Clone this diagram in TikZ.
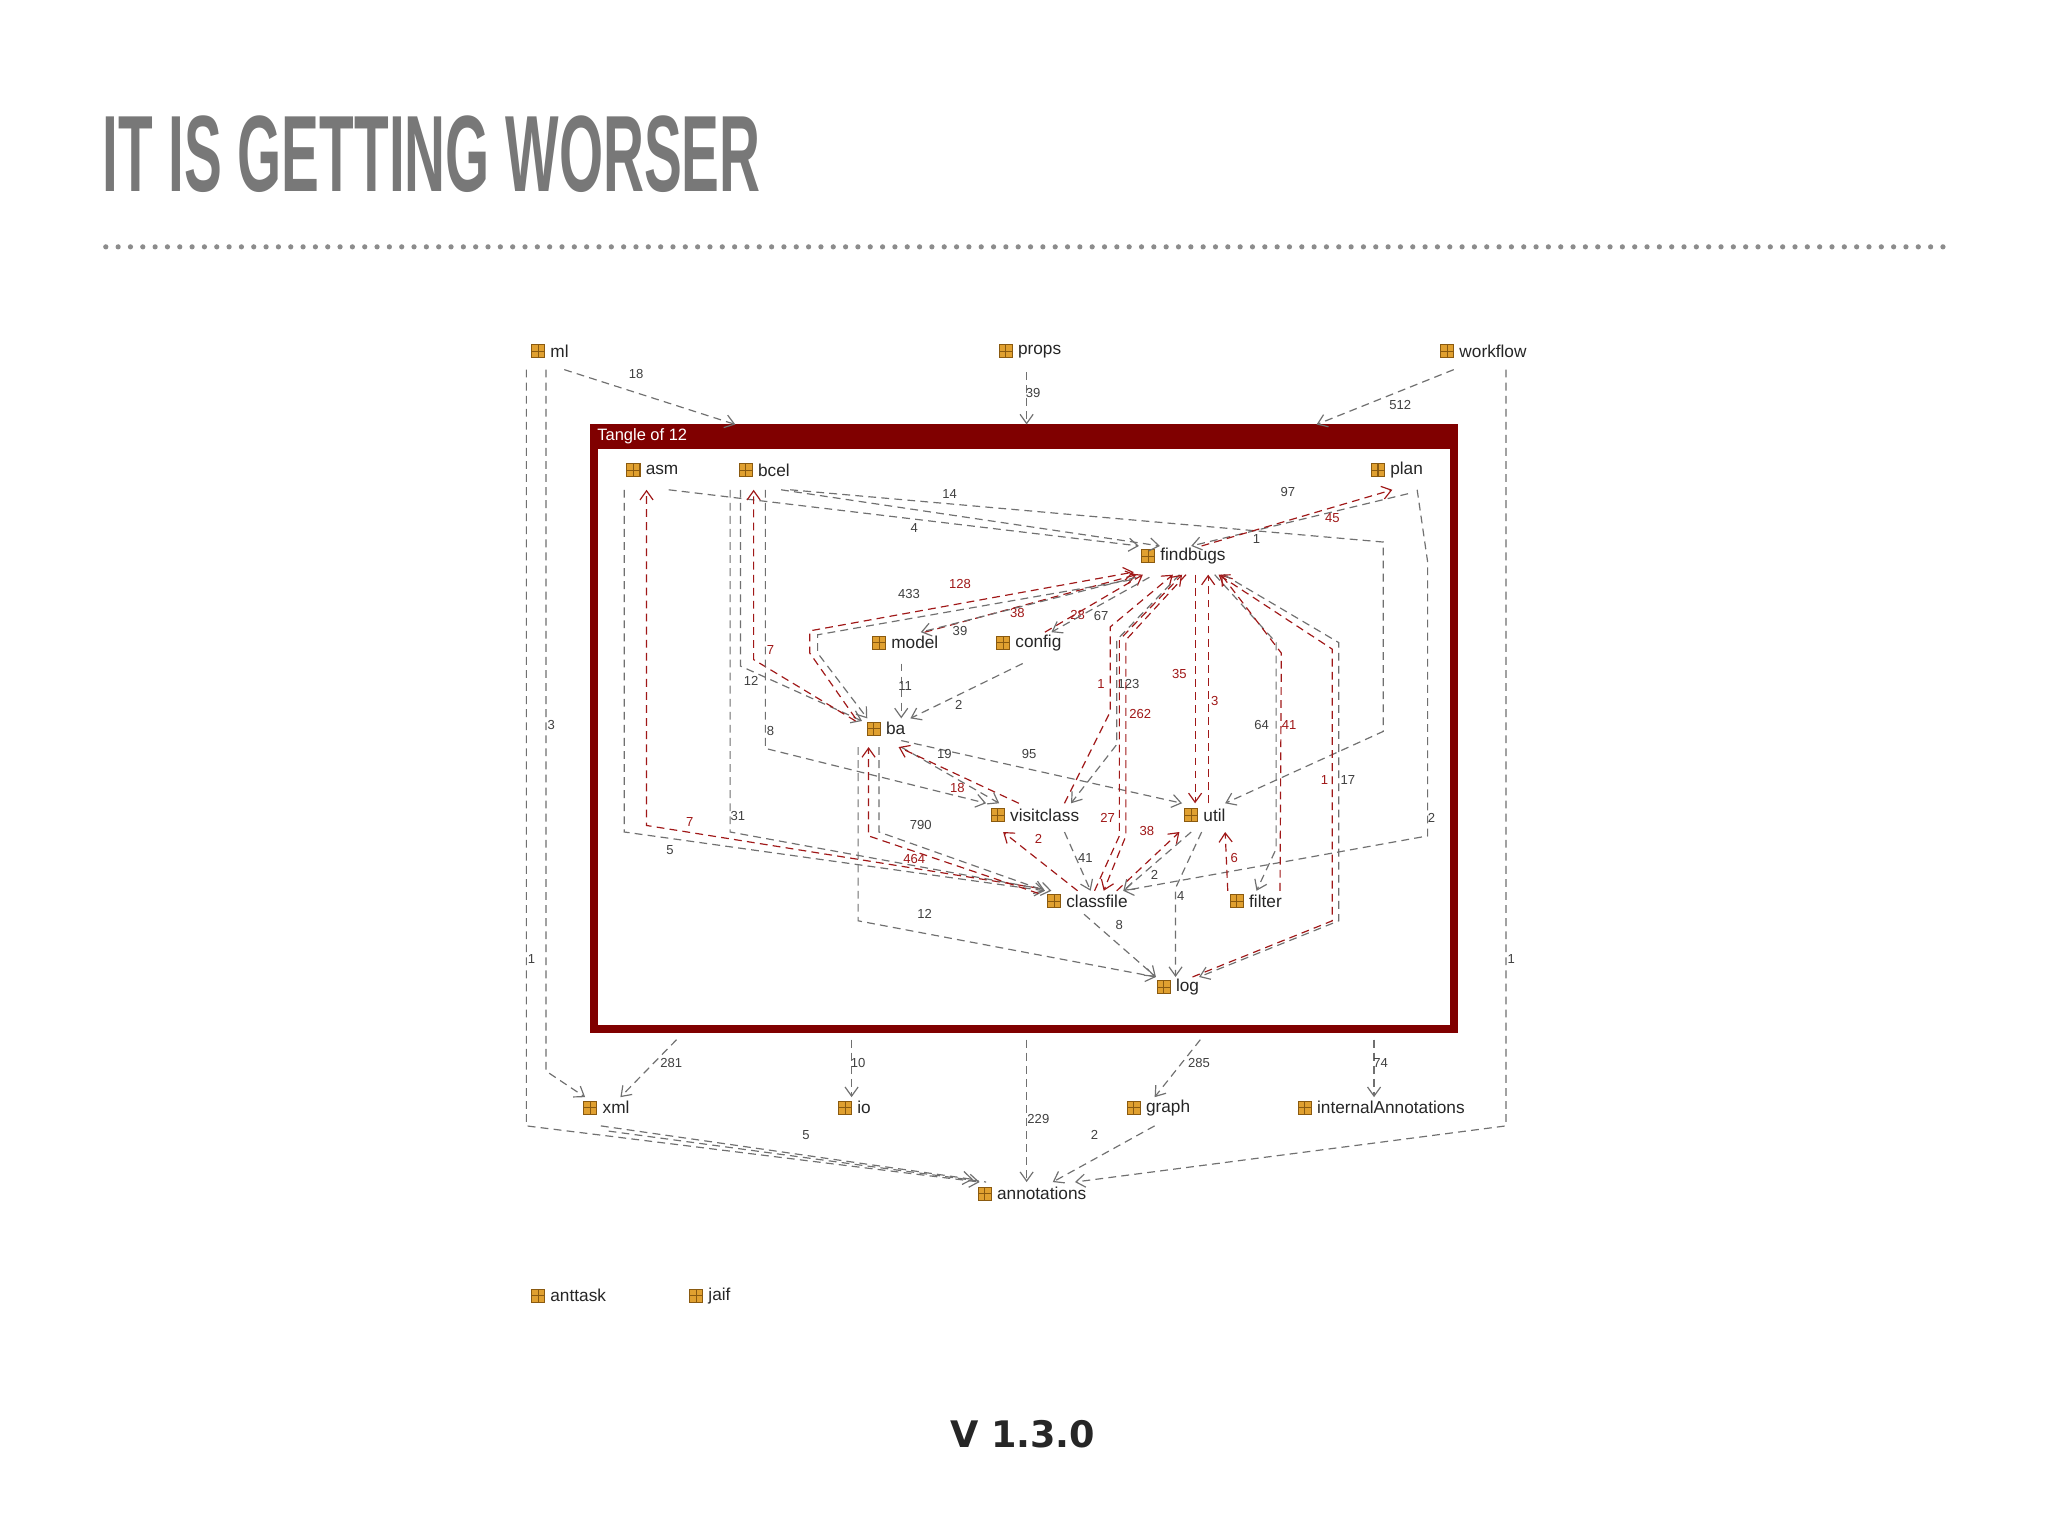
\documentclass[tikz,border=0pt]{standalone}
\usepackage{fontspec}
\setmainfont{Liberation Sans}
\newfontfamily\vfont{DejaVu Sans}
\usetikzlibrary{arrows.meta}
\definecolor{tang}{HTML}{800000}
\definecolor{redg}{HTML}{A01818}
\definecolor{grayg}{HTML}{707070}
\definecolor{icof}{HTML}{E0A030}
\definecolor{icod}{HTML}{8A5A10}
\tikzset{
 ge/.style={grayg,densely dashed,line width=0.45pt,-{Straight Barb[length=3.5pt,width=5pt]}},
 re/.style={redg,densely dashed,line width=0.45pt,-{Straight Barb[length=3.5pt,width=5pt]}},
 gl/.style={grayg,densely dashed,line width=0.45pt},
 nm/.style={anchor=west,inner sep=0pt,font=\fontsize{6.6}{7}\selectfont,text=black!85},
 lb/.style={inner sep=0pt,font=\fontsize{5}{6}\selectfont,text=black!75},
 rl/.style={inner sep=0pt,font=\fontsize{5}{6}\selectfont,text=redg},
}
\newcommand\pk[4]{%
 \fill[icof,draw=icod,line width=0.4pt] ({#2-5},{#3-5}) rectangle ({#2+5},{#3+5});
 \draw[icod,line width=0.4pt] (#2,{#3-5}) -- (#2,{#3+5}) ({#2-5},#3) -- ({#2+5},#3);
 \node[nm] (#1) at ({#2+9},#3) {#4};}
\begin{document}
\begin{tikzpicture}[x=0.5pt,y=-0.5pt]
\useasboundingbox[fill=white] (0,0) rectangle (1568,1176);
% title
\node[anchor=south west,inner sep=0pt,text=black!53] (title) at (78,148) {\resizebox{252pt}{29pt}{\bfseries IT IS GETTING WORSER}};
\draw[black!45,line width=2pt,line cap=round,dash pattern=on 0pt off 4.72pt] (81,189) -- (1492,189);
% tangle box
\fill[tang] (452,325) rectangle (1116,344);
\draw[tang,line width=3pt] (455,328) rectangle (1113,788);
\node[anchor=west,inner sep=0pt,text=white,font=\fontsize{6.3}{7}\selectfont] (tt) at (457,334) {Tangle of 12};
% packages
\pk{ml}{412}{269}{ml}
\pk{props}{770}{269}{props}
\pk{workflow}{1108}{269}{workflow}
\pk{asm}{485}{360}{asm}
\pk{bcel}{571}{360}{bcel}
\pk{plan}{1055}{360}{plan}
\pk{findbugs}{879}{426}{findbugs}
\pk{model}{673}{492}{model}
\pk{config}{768}{492}{config}
\pk{ba}{669}{558}{ba}
\pk{visitclass}{764}{624}{visitclass}
\pk{util}{912}{624}{util}
\pk{classfile}{807}{690}{classfile}
\pk{filter}{947}{690}{filter}
\pk{log}{891}{756}{log}
\pk{xml}{452}{848}{xml}
\pk{io}{647}{848}{io}
\pk{graph}{868}{848}{graph}
\pk{ia}{999}{848}{internalAnnotations}
\pk{annotations}{754}{914}{annotations}
\pk{anttask}{412}{992}{anttask}
\pk{jaif}{533}{992}{jaif}
% outside edges
\draw[ge] (432,283) -- (563,325); \node[lb] at (487,286) {18};
\draw[ge] (786,285) -- (786,325); \node[lb] at (791,301) {39};
\draw[ge] (1113,283) -- (1008,325); \node[lb] at (1072,310) {512};
\draw[ge] (403,283) -- (403,862) -- (750,905); \node[lb] at (407,734) {1};
\draw[ge] (418,283) -- (418,820) -- (448,840); \node[lb] at (422,555) {3};
\draw[ge] (1153,283) -- (1153,862) -- (823,905); \node[lb] at (1157,734) {1};
\draw[ge] (518,796) -- (475,840); \node[lb] at (514,814) {281};
\draw[ge] (652,796) -- (652,840); \node[lb] at (657,814) {10};
\draw[ge] (786,796) -- (786,905); \node[lb] at (795,857) {229};
\draw[ge] (919,796) -- (884,840); \node[lb] at (918,814) {285};
\draw[ge] (1052,796) -- (1052,840); \node[lb] at (1057,814) {74};
\draw[ge] (460,862) -- (745,903); \draw[gl] (466,866) -- (755,905); \node[lb] at (617,869) {5};
\draw[ge] (884,862) -- (806,905); \node[lb] at (838,869) {2};
% inside edges
\draw[ge] (512,375) -- (872,418); \node[lb] at (700,404) {4};
\draw[ge] (598,375) -- (888,418); \node[lb] at (727,378) {14};
\draw[ge] (605,375) -- (1059,415) -- (1059,560) -- (938,615); \node[lb] at (962,413) {1}; \node[lb] at (1032,597) {17};
\draw[ge] (1078,378) -- (912,418); \node[lb] at (986,377) {97};
\draw[re] (920,418) -- (1066,375); \node[rl] at (1020,397) {45};
\draw[ge] (1085,375) -- (1093,430) -- (1093,640) -- (860,682); \node[lb] at (1096,626) {2};
\draw[ge] (478,375) -- (478,637) -- (800,682); \node[lb] at (513,651) {5};
\draw[re] (795,680) -- (495,632) -- (495,375); \node[rl] at (528,629) {7};
\draw[ge] (559,375) -- (559,637) -- (805,682); \node[lb] at (565,625) {31};
\draw[ge] (567,375) -- (567,510) -- (660,552); \node[lb] at (575,521) {12};
\draw[re] (655,552) -- (577,505) -- (577,375); \node[rl] at (590,498) {7};
\draw[ge] (586,375) -- (586,573) -- (755,615); \node[lb] at (590,560) {8};
\draw[re] (708,484) -- (870,440); \node[rl] at (779,469) {38};
\draw[ge] (870,442) -- (705,484); \node[lb] at (735,483) {39};
\draw[re] (800,484) -- (875,440); \node[rl] at (825,471) {28};
\draw[ge] (880,442) -- (805,484); \node[lb] at (843,472) {67};
\draw[ge] (690,508) -- (690,550); \node[lb] at (693,525) {11};
\draw[ge] (783,508) -- (697,550); \node[lb] at (734,540) {2};
\draw[re] (655,550) -- (620,500) -- (620,483) -- (868,438); \node[rl] at (735,447) {128};
\draw[ge] (866,444) -- (626,486) -- (626,500) -- (664,550); \node[lb] at (696,455) {433};
\draw[ge] (690,567) -- (905,615); \node[lb] at (788,577) {95};
\draw[ge] (690,572) -- (765,615); \node[lb] at (723,577) {19};
\draw[re] (780,615) -- (688,572); \node[rl] at (733,603) {18};
\draw[re] (815,615) -- (850,545) -- (850,480) -- (898,440); \node[rl] at (843,524) {1};
\draw[ge] (903,440) -- (855,490) -- (855,570) -- (820,615); \node[lb] at (864,524) {123};
\draw[re] (908,440) -- (862,490) -- (862,640) -- (845,682); \node[rl] at (873,547) {262};
\draw[re] (838,682) -- (857,640) -- (857,490) -- (905,440); \node[rl] at (848,626) {27};
\draw[re] (915,440) -- (915,615); \node[rl] at (903,516) {35};
\draw[re] (925,615) -- (925,440); \node[rl] at (930,537) {3};
\draw[ge] (930,440) -- (977,492) -- (977,650) -- (962,682); \node[lb] at (966,555) {64};
\draw[re] (980,682) -- (981,500) -- (935,440); \node[rl] at (987,555) {41};
\draw[ge] (937,440) -- (1025,492) -- (1025,705) -- (918,748);
\draw[re] (913,748) -- (1020,705) -- (1020,497) -- (933,440); \node[rl] at (1014,597) {1};
\draw[ge] (673,572) -- (673,637) -- (800,682); \node[lb] at (705,632) {790};
\draw[re] (795,684) -- (665,640) -- (665,572); \node[rl] at (700,658) {464};
\draw[ge] (657,572) -- (657,705) -- (885,748); \node[lb] at (708,700) {12};
\draw[ge] (815,637) -- (835,682); \node[lb] at (831,657) {41};
\draw[re] (825,682) -- (768,637); \node[rl] at (795,642) {2};
\draw[re] (855,682) -- (903,637); \node[rl] at (878,636) {38};
\draw[ge] (912,637) -- (860,682); \node[lb] at (884,670) {2};
\draw[ge] (920,637) -- (900,680) -- (900,748); \node[lb] at (904,686) {4};
\draw[re] (940,682) -- (938,637); \node[rl] at (945,657) {6};
\draw[ge] (830,700) -- (885,748); \node[lb] at (857,708) {8};
% version
\node[font=\vfont\bfseries\fontsize{14}{16}\selectfont,text=black!85] (ver) at (783,1098) {V 1.3.0};
\end{tikzpicture}
\end{document}
